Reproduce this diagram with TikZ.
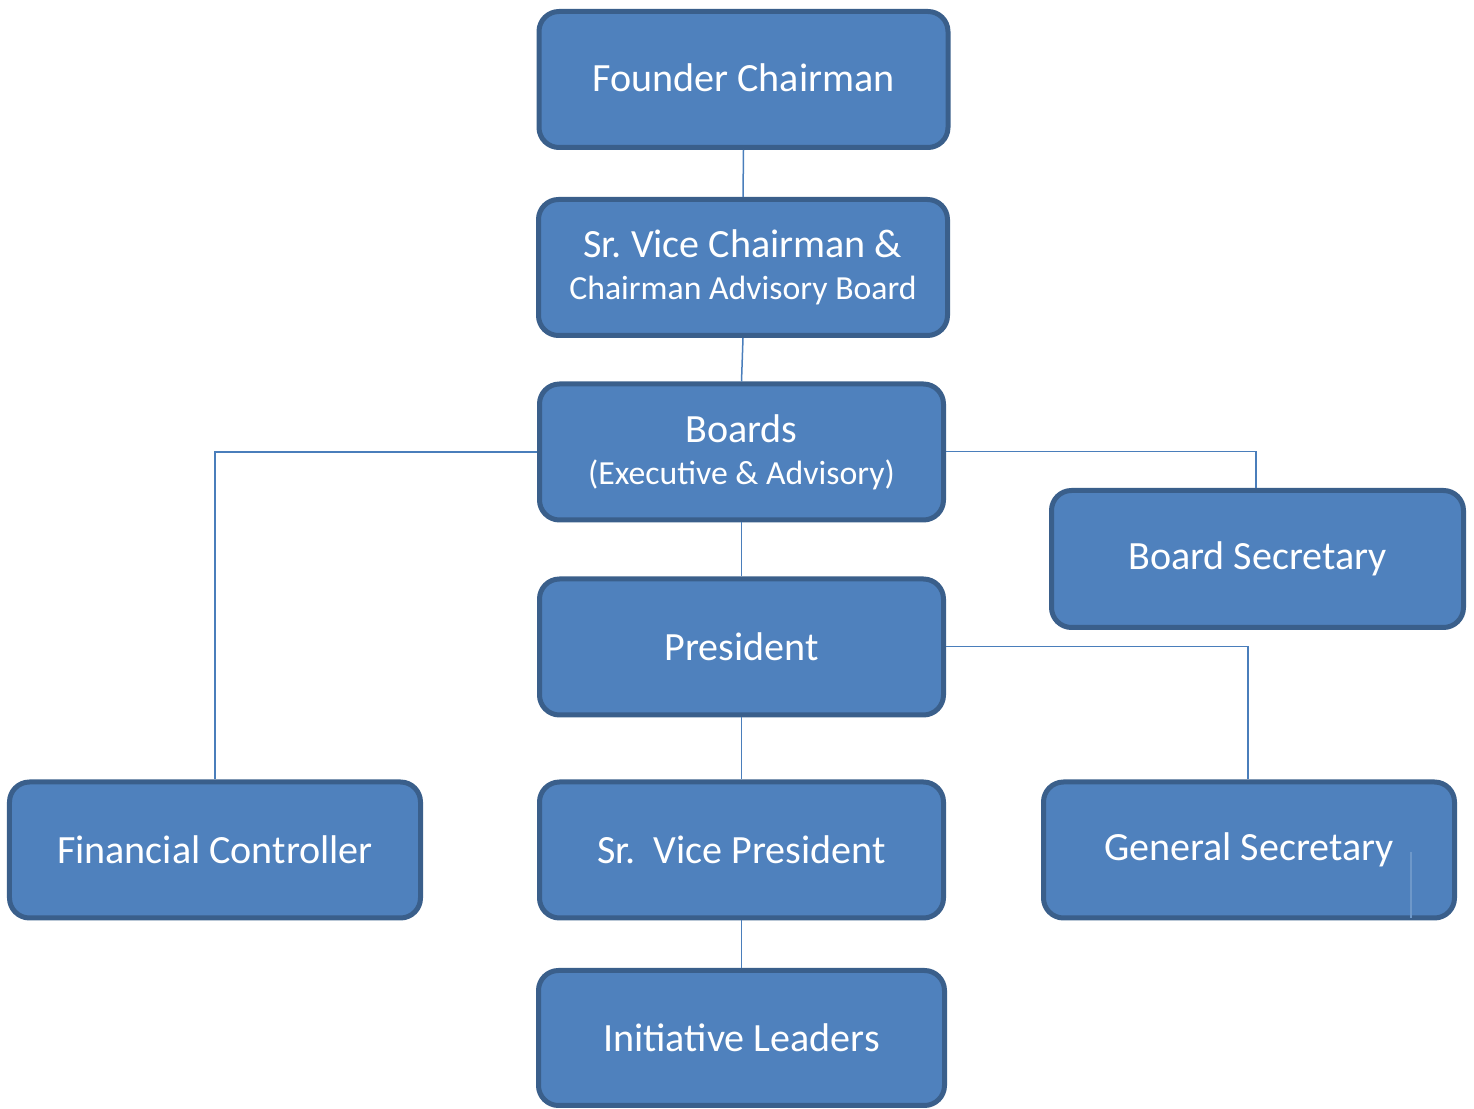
\documentclass[tikz,border=0pt]{standalone}
\usepackage{fontspec}
\setmainfont{Carlito}
\frenchspacing
\definecolor{boxfill}{HTML}{4F81BD}
\definecolor{boxline}{HTML}{3A5F8B}
\definecolor{conn}{HTML}{4A7EBB}
\begin{document}
\begin{tikzpicture}[
  orgbox/.style={draw=boxline, fill=boxfill, line width=0.05cm, rounded corners=0.2cm,
    minimum height=1.36cm, text=white, align=center, inner sep=0pt,
    font=\fontsize{11.4}{13.5}\selectfont},
  link/.style={draw=conn, line width=0.015cm}
]
\useasboundingbox (0,0) rectangle (14.74,-11.09);
\node[orgbox, minimum width=4.09cm] (fc) at (7.435,-0.795) {Founder Chairman\rule[-1pt]{0pt}{1pt}};
\node[orgbox, minimum width=4.09cm] (svc) at (7.43,-2.675) {Sr. Vice Chairman \&\\[-1.5pt]{\fontsize{9.6}{12}\selectfont Chairman Advisory Board}};
\node[orgbox, minimum width=4.04cm] (boards) at (7.415,-4.52) {Boards\\[-1.5pt]{\fontsize{9.6}{12}\selectfont (Executive \& Advisory)}};
\node[orgbox, minimum width=4.12cm, minimum height=1.37cm] (bsec) at (12.575,-5.59) {Board Secretary};
\node[orgbox, minimum width=4.04cm] (pres) at (7.415,-6.47) {President};
\node[orgbox, minimum width=4.11cm] (fin) at (2.15,-8.5) {Financial Controller};
\node[orgbox, minimum width=4.04cm] (svp) at (7.415,-8.5) {Sr.\ \ Vice President};
\node[orgbox, minimum width=4.11cm] (gsec) at (12.49,-8.5) {General Secretary};
\node[orgbox, minimum width=4.06cm, minimum height=1.35cm] (il) at (7.415,-10.38) {Initiative Leaders};

\draw[link] (fc.south) -- (svc.north);
\draw[link] (svc.south) -- (boards.north);
\draw[link] (boards.south) -- (pres.north);
\draw[link] (pres.south) -- (svp.north);
\draw[link] (svp.south) -- (il.north);
\draw[link] (boards.west) -| (fin.north);
\draw[link] ([yshift=0.005cm]boards.east) -| ([xshift=-0.015cm]bsec.north);
\draw[link] ([yshift=0.005cm]pres.east) -| ([xshift=-0.01cm]gsec.north);
\coordinate (gsA) at ([xshift=1.62cm,yshift=-0.02cm]gsec.center);
\coordinate (gsB) at ([xshift=1.62cm,yshift=-0.68cm]gsec.center);
\draw[link, draw=conn!80] (gsA) -- (gsB);
\end{tikzpicture}
\end{document}
